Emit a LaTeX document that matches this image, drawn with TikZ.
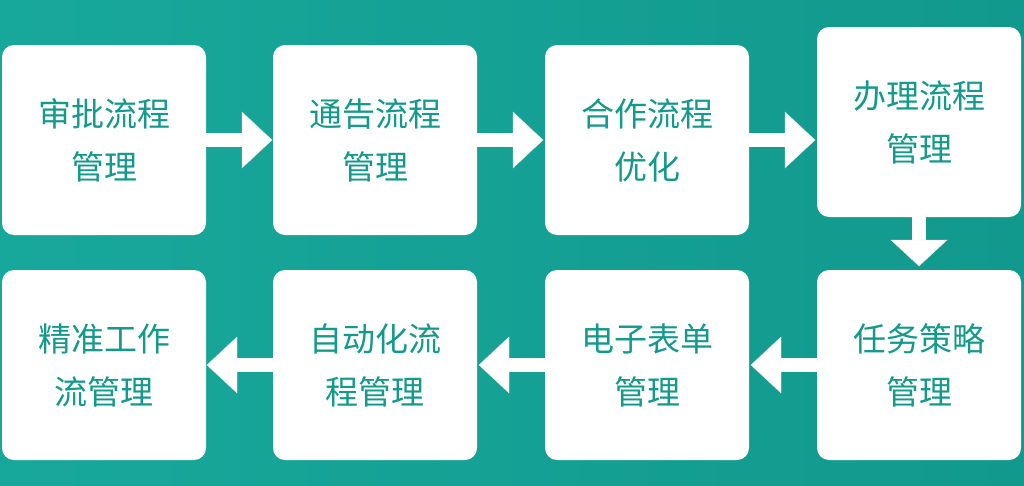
\documentclass[tikz,border=0pt]{standalone}
\usepackage{fontspec}
\newfontfamily\cjk{Noto Sans CJK SC}
\definecolor{bgA}{HTML}{18A89B}
\definecolor{bgB}{HTML}{11998D}
\definecolor{txt}{HTML}{129A8A}
\begin{document}
\begin{tikzpicture}[x=1pt,y=-1pt,
 card/.style={fill=white,rounded corners=12pt,minimum width=204pt,minimum height=190pt,inner sep=0pt,align=center,font=\cjk\fontsize{33}{53}\selectfont,text=txt}]
\shade[left color=bgA,right color=bgB] (0,0) rectangle (1024,485);
\useasboundingbox (0,0) rectangle (1024,485);
\node[card] (a) at (104,140) {审批流程\\管理};
\node[card] (b) at (375,140) {通告流程\\管理};
\node[card] (c) at (647,140) {合作流程\\优化};
\node[card] (d) at (919,122) {办理流程\\管理};
\node[card] (e) at (919,365) {任务策略\\管理};
\node[card] (f) at (647,365) {电子表单\\管理};
\node[card] (g) at (375,365) {自动化流\\程管理};
\node[card] (h) at (104,365) {精准工作\\流管理};
\foreach \x in {206,477,749}{
 \fill[white] (\x,133) rectangle (\x+36,147);
 \fill[white,draw=black!10] (\x+36,112) -- (\x+66,140) -- (\x+36,168) -- cycle;
}
\fill[white] (912,217) rectangle (926,240);
\fill[white,draw=black!10] (891,240) -- (947,240) -- (919,266) -- cycle;
\foreach \x in {817,545,273}{
 \fill[white] (\x,358) rectangle (\x-36,372);
 \fill[white,draw=black!10] (\x-36,337) -- (\x-66,365) -- (\x-36,393) -- cycle;
}
\end{tikzpicture}
\end{document}
